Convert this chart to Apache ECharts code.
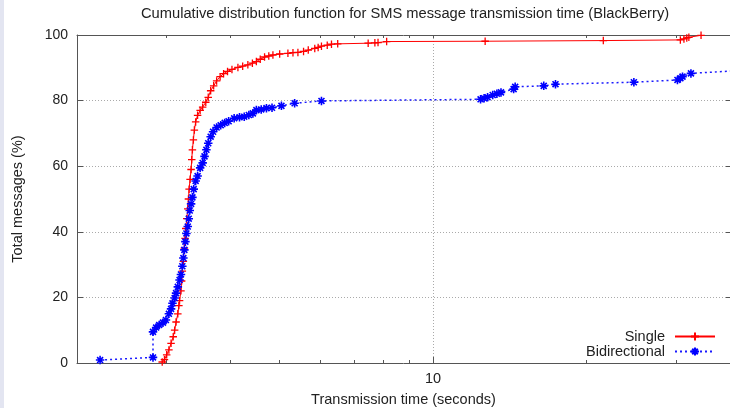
<!DOCTYPE html>
<html><head><meta charset="utf-8">
<script src="https://cdn.jsdelivr.net/npm/echarts@6/dist/echarts.min.js"></script>
<style>html,body{margin:0;padding:0;background:#fff}#c{width:730px;height:408px}</style>
</head><body><div id="c"></div>
<script>
// ---- data ----
const singleTime = [2.94,2.97,3.00,3.03,3.06,3.09,3.11,3.13,3.155,3.17,3.18,3.20,3.21,3.22,3.235,3.25,3.26,3.27,3.285,3.30,3.31,3.32,3.335,3.35,3.36,3.37,3.385,3.40,3.42,3.45,3.49,3.53,3.58,3.62,3.66,3.71,3.76,3.82,3.88,3.95,4.03,4.14,4.23,4.33,4.42,4.50,4.58,4.67,4.76,4.85,5.00,5.19,5.31,5.43,5.57,5.69,5.86,5.95,6.04,6.20,6.32,6.50,7.46,7.69,7.80,8.11,12.66,21.6,30.6,31.1,31.5,31.8,33.6];
const singlePct  = [0.3,1,2.5,4,6,8,10,12.5,15,17.5,19,22,25,28,31,35,38,41,44,47,50,53,56,59,62,65,68,71,73.5,75.5,77,78,79.5,81,83,84.5,86,87.3,88.2,88.9,89.5,90.1,90.5,90.9,91.4,91.9,92.6,93.3,93.6,93.9,94.2,94.4,94.6,94.7,95.0,95.4,95.9,96.2,96.6,96.9,97.2,97.3,97.5,97.6,97.7,98.0,98.1,98.3,98.5,98.8,99.1,99.3,99.9];
const biTime = [2.22,2.82,2.82,2.86,2.90,2.95,2.99,3.03,3.06,3.08,3.11,3.13,3.155,3.18,3.20,3.22,3.235,3.25,3.265,3.28,3.30,3.315,3.33,3.35,3.37,3.39,3.42,3.45,3.49,3.53,3.56,3.59,3.62,3.66,3.70,3.76,3.83,3.90,3.97,4.07,4.17,4.26,4.35,4.43,4.50,4.60,4.71,4.83,5.04,5.35,6.04,12.4,12.6,12.8,13.1,13.35,13.6,14.4,14.5,16.5,17.4,24.8,30.2,30.6,30.9,32.1,38.4];
const biPct  = [0.9,1.7,9.5,10.8,11.6,12.3,13.1,15.0,16.5,18.2,19.8,21.3,23.2,25.3,27,29.5,32,34.5,37,39.5,41.6,44,46.5,48.5,50.5,53,55.5,57,59.5,61,63,65,67,69,70.5,71.8,72.5,73.2,73.7,74.6,74.9,75.1,75.6,76.1,77.1,77.3,77.7,77.8,78.4,79.2,79.9,80.4,80.7,81.0,81.7,82.1,82.5,83.5,84.2,84.5,85.0,85.6,86.3,86.8,87.3,88.3,89.0];
const seriesNames = ['Single','Bidirectional'];
const xMajorTicks = [10];
const xMinorTicks = [2,3,4,5,6,7,8,9,20,30];
const yMin = 0, yMax = 100, yStep = 20;
const xMin = 2, xMax = 38.3;

const FONT = 'Liberation Sans, Arial, Helvetica, sans-serif';
const FS = 14.5;
const AX = '#555';
const TXT = '#222';
const zip = (a,b) => a.map((v,i)=>[v,b[i]]);
const plusPath = 'path://M0,5L10,5M5,0L5,10';
const starPath = 'path://M0,5L10,5M5,0L5,10M1.5,1.5L8.5,8.5M8.5,1.5L1.5,8.5';

const baseX = {type:'log', logBase:10, min:xMin, max:xMax, gridIndex:0};
const chart = echarts.init(document.getElementById('c'), null, {renderer:'canvas'});
chart.setOption({
  animation:false,
  backgroundColor:'#fff',
  textStyle:{fontFamily:FONT},
  graphic:[{type:'rect', shape:{x:0,y:0,width:4,height:408}, style:{fill:'#e3e5f1'}, silent:true}],
  title:{text:'Cumulative distribution function for SMS message transmission time (BlackBerry)',
    left:136, top:1, textStyle:{fontSize:14.7, fontWeight:'normal', color:TXT, fontFamily:FONT}},
  grid:{left:77, right:0, top:35, bottom:45, containLabel:false, outerBoundsMode:'none'},
  legend:{data:seriesNames, orient:'vertical', right:9, top:324, align:'right',
    itemWidth:40, itemHeight:10, itemGap:0,
    textStyle:{fontSize:FS, lineHeight:15, color:TXT, fontFamily:FONT, padding:[0,5,0,0]}},
  xAxis:[
    Object.assign({}, baseX, {position:'bottom',
      name:'Transmission time (seconds)', nameLocation:'middle', nameGap:29,
      nameTextStyle:{fontSize:FS, color:TXT, fontFamily:FONT},
      axisLine:{show:true, onZero:false, lineStyle:{color:AX, width:1}},
      axisTick:{show:true, inside:true, length:6, customValues:xMajorTicks, lineStyle:{color:AX}},
      axisLabel:{show:true, customValues:xMajorTicks, fontSize:FS, color:TXT, margin:8, fontFamily:FONT},
      splitLine:{show:true, lineStyle:{color:'#aaa', type:[1,2], width:1}}}),
    Object.assign({}, baseX, {position:'bottom',
      axisLine:{show:false},
      axisTick:{show:true, inside:true, length:3, customValues:xMinorTicks, lineStyle:{color:AX}},
      axisLabel:{show:false}, splitLine:{show:false}}),
    Object.assign({}, baseX, {position:'top',
      axisLine:{show:true, onZero:false, lineStyle:{color:AX, width:1}},
      axisTick:{show:true, inside:true, length:3, customValues:xMinorTicks.concat(xMajorTicks), lineStyle:{color:AX}},
      axisLabel:{show:false}, splitLine:{show:false}})
  ],
  yAxis:[
    {type:'value', min:yMin, max:yMax, interval:yStep, position:'left',
      name:'Total messages (%)', nameLocation:'middle', nameGap:52, nameRotate:90,
      nameTextStyle:{fontSize:FS, color:TXT, fontFamily:FONT},
      axisLine:{show:true, onZero:false, lineStyle:{color:AX, width:1}},
      axisTick:{show:true, inside:true, length:6, lineStyle:{color:AX}},
      axisLabel:{fontSize:14, color:TXT, margin:9, fontFamily:FONT},
      splitLine:{show:true, lineStyle:{color:'#aaa', type:[1,2], width:1}}},
    {type:'value', min:yMin, max:yMax, interval:yStep, position:'right',
      axisLine:{show:true, onZero:false, lineStyle:{color:AX, width:1}},
      axisTick:{show:true, inside:true, length:4, lineStyle:{color:AX}},
      axisLabel:{show:false}, splitLine:{show:false}}
  ],
  series:[
    {name:seriesNames[0], type:'line', xAxisIndex:0, yAxisIndex:0, data:zip(singleTime, singlePct),
      showAllSymbol:true, symbol:plusPath, symbolSize:7.5,
      lineStyle:{color:'#ff0000', width:1},
      itemStyle:{color:'#ff0000', borderColor:'#ff0000', borderWidth:1.3}},
    {name:seriesNames[1], type:'line', xAxisIndex:0, yAxisIndex:0, data:zip(biTime, biPct),
      showAllSymbol:true, symbol:starPath, symbolSize:8.5,
      lineStyle:{color:'#1a1aff', width:1.5, type:[2,3]},
      itemStyle:{color:'#0000ff', borderColor:'#0000ff', borderWidth:1.6}}
  ]
});
</script></body></html>
